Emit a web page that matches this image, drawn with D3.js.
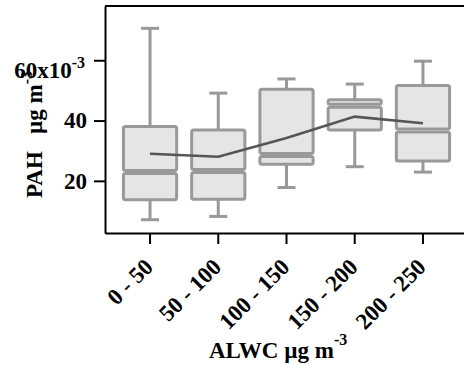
<!DOCTYPE html>
<html>
<head>
<meta charset="utf-8">
<script src="https://cdn.jsdelivr.net/npm/d3@7"></script>
<style>
  body { margin: 0; background: #fff; }
  svg text { font-family: "Liberation Serif", "Times New Roman", serif; font-weight: bold; fill: #000; }
</style>
</head>
<body>
<div id="chart"></div>
<script>
// ALWC bins and PAH stats (x10^-3 ug m-3)
const categories = ["0 - 50", "50 - 100", "100 - 150", "150 - 200", "200 - 250"];
const whiskerLow = [7.1, 8.2, 17.8, 24.7, 22.9];
const q1 = [13.7, 13.9, 25.5, 36.9, 26.6];
const median = [22.9, 23.3, 28.6, 44.9, 36.7];
const q3 = [38.0, 36.9, 50.4, 46.9, 51.6];
const whiskerHigh = [70.6, 49.1, 53.8, 52.1, 59.7];
const means = [29.0, 28.0, 34.2, 41.3, 39.1];
const yTicks = [20, 40, 60];

const width = 464, height = 369;
const margin = {left: 105, top: 6, right: -4, bottom: 136};

const svg = d3.select("#chart").append("svg")
    .attr("width", width)
    .attr("height", height);

const x = d3.scaleBand()
    .domain(categories)
    .range([margin.left, width - margin.right])
    .paddingInner(0)
    .paddingOuter(0.16);

const y = d3.scaleLinear()
    .domain([2.7, 78])
    .range([height - margin.bottom, margin.top]);

const boxW = x.step() * 0.78;
const capW = 18;

const stats = categories.map((c, i) => ({
    c: c, lo: whiskerLow[i], q1: q1[i], med: median[i], q3: q3[i], hi: whiskerHigh[i], mean: means[i]
}));

const boxes = svg.append("g").selectAll("g")
    .data(stats)
    .join("g")
    .attr("transform", d => `translate(${x(d.c) + x.bandwidth() / 2},0)`);

// whiskers
boxes.append("line")
    .attr("x1", 0).attr("x2", 0)
    .attr("y1", d => y(d.hi)).attr("y2", d => y(d.q3))
    .attr("stroke", "#999").attr("stroke-width", 3);
boxes.append("line")
    .attr("x1", 0).attr("x2", 0)
    .attr("y1", d => y(d.q1)).attr("y2", d => y(d.lo))
    .attr("stroke", "#999").attr("stroke-width", 3);
boxes.selectAll(".cap")
    .data(d => [d.hi, d.lo])
    .join("line")
    .attr("class", "cap")
    .attr("x1", -capW / 2).attr("x2", capW / 2)
    .attr("y1", v => y(v)).attr("y2", v => y(v))
    .attr("stroke", "#999").attr("stroke-width", 3);

// upper and lower halves of the box
boxes.append("rect")
    .attr("x", -boxW / 2).attr("width", boxW)
    .attr("y", d => y(d.q3))
    .attr("height", d => y(d.med) - y(d.q3) - 1.5)
    .attr("rx", 2)
    .attr("fill", "#e5e5e5").attr("stroke", "#999").attr("stroke-width", 3);
boxes.append("rect")
    .attr("x", -boxW / 2).attr("width", boxW)
    .attr("y", d => y(d.med) + 1.5)
    .attr("height", d => y(d.q1) - y(d.med) - 1.5)
    .attr("rx", 2)
    .attr("fill", "#e5e5e5").attr("stroke", "#999").attr("stroke-width", 3);

// mean line
svg.append("path")
    .datum(stats)
    .attr("fill", "none")
    .attr("stroke", "#555")
    .attr("stroke-width", 2.5)
    .attr("d", d3.line()
        .x(d => x(d.c) + x.bandwidth() / 2)
        .y(d => y(d.mean)));

// frame top
svg.append("line")
    .attr("x1", margin.left).attr("x2", width)
    .attr("y1", margin.top).attr("y2", margin.top)
    .attr("stroke", "#000").attr("stroke-width", 2);

// axes
const yAxis = svg.append("g")
    .attr("transform", `translate(${margin.left},0)`)
    .call(d3.axisLeft(y).tickValues(yTicks).tickSize(11).tickPadding(7).tickSizeOuter(0));
yAxis.select(".domain").attr("stroke-width", 2);
yAxis.selectAll(".tick line").attr("stroke-width", 2);
yAxis.selectAll(".tick text")
    .style("font-size", "23px");
yAxis.selectAll(".tick text").filter(d => d === 60)
    .text("60x10")
    .attr("dx", "-2")
    .attr("dy", "0.75em")
    .append("tspan")
    .attr("dy", "-0.6em")
    .style("font-size", "16px")
    .text("-3");

const xAxis = svg.append("g")
    .attr("transform", `translate(0,${height - margin.bottom})`)
    .call(d3.axisBottom(x).tickSize(11).tickPadding(4).tickSizeOuter(0));
xAxis.select(".domain").attr("stroke-width", 2);
xAxis.selectAll(".tick line").attr("stroke-width", 2);
xAxis.selectAll(".tick text")
    .style("font-size", "23px")
    .attr("text-anchor", "end")
    .attr("dy", "0.35em")
    .attr("transform", "translate(-12,19) rotate(-45)");

// axis titles
const yTitle = svg.append("text")
    .attr("transform", "translate(42,198) rotate(-90)")
    .style("font-size", "23px")
    .style("white-space", "pre")
    .text("PAH   µg m");
yTitle.append("tspan")
    .attr("dy", "-0.6em")
    .style("font-size", "16px")
    .text("-3");

const xTitle = svg.append("text")
    .attr("x", 209).attr("y", 358)
    .style("font-size", "23px")
    .text("ALWC µg m");
xTitle.append("tspan")
    .attr("dy", "-0.8em")
    .style("font-size", "16px")
    .text("-3");
</script>
</body>
</html>
